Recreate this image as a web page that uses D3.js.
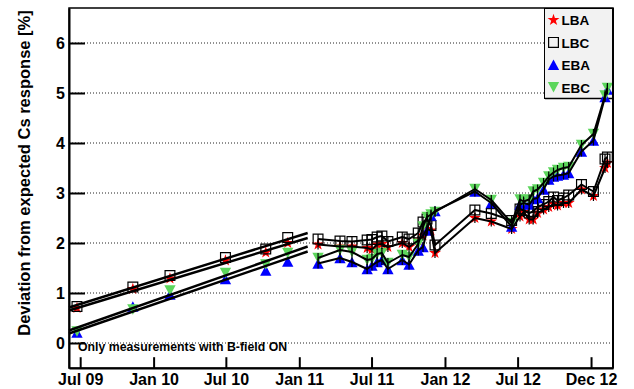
<!DOCTYPE html>
<html><head><meta charset="utf-8">
<script src="https://cdn.jsdelivr.net/npm/d3@7"></script>
<style>
html,body{margin:0;padding:0;background:#fff;}
svg{display:block;font-family:"Liberation Sans",Arial,Helvetica,sans-serif;font-weight:bold;}
</style></head><body>
<svg id="chart" width="634" height="389"></svg>
<script>
// 2009–2010 measurements (fitted with straight lines, not joined)
const earlyDates = ["2009-06-23","2009-11-10","2010-02-11","2010-06-30","2010-10-09","2010-12-03"];
const lbaEarly = [0.70, 1.08, 1.29, 1.65, 1.81, 2.00];
const lbcEarly = [0.73, 1.12, 1.35, 1.71, 1.88, 2.11];
const ebaEarly = [0.21, 0.73, 0.97, 1.28, 1.45, 1.63];
const ebcEarly = [0.23, 0.67, 1.05, 1.40, 1.57, 1.80];

// 2011–2013 measurements (joined by lines)
const dates = ["2011-02-17","2011-04-13","2011-05-13","2011-06-20","2011-07-02","2011-07-15","2011-07-27",
  "2011-08-11","2011-09-16","2011-10-03","2011-10-26","2011-11-07","2011-11-17","2011-11-27","2011-12-07",
  "2012-03-16","2012-04-26","2012-06-16","2012-07-07","2012-07-16","2012-07-30","2012-08-09","2012-08-20",
  "2012-09-04","2012-09-17","2012-09-29","2012-10-09","2012-10-24","2012-11-06","2012-12-08","2013-01-07",
  "2013-02-05","2013-02-11"];
const lba = [1.97,1.93,1.93,1.90,1.87,1.97,1.98,1.92,2.00,1.92,2.05,2.15,2.28,2.25,1.80,
  2.50,2.43,2.28,2.53,2.62,2.47,2.47,2.60,2.67,2.72,2.78,2.75,2.80,2.80,3.07,2.94,3.50,3.60];
const lbc = [2.08,2.04,2.03,2.06,2.07,2.12,2.14,2.03,2.12,2.08,2.20,2.42,2.48,2.35,1.96,
  2.66,2.59,2.45,2.68,2.65,2.60,2.63,2.72,2.77,2.83,2.92,2.85,2.90,2.96,3.17,3.03,3.68,3.72];
const eba = [1.59,1.70,1.62,1.48,1.55,1.62,1.66,1.48,1.66,1.57,1.85,1.92,2.25,2.55,2.64,
  3.03,2.80,2.33,2.77,2.80,2.77,2.88,2.90,3.07,3.27,3.33,3.35,3.37,3.40,3.83,4.05,4.92,5.07];
const ebc = [1.70,1.86,1.82,1.66,1.68,1.78,1.80,1.60,1.76,1.72,1.98,2.33,2.52,2.57,2.62,
  3.08,2.86,2.40,2.87,2.83,2.87,3.03,3.07,3.20,3.33,3.41,3.46,3.50,3.52,3.96,4.18,4.95,5.10];
const errPct = 0.10;

// straight-line fits over the 2009–2010 period
const fitDates = ["2009-06-03","2011-01-22"];
const fitLBA = [0.65, 2.10];
const fitLBC = [0.71, 2.20];
const fitEBA = [0.19, 1.83];
const fitEBC = [0.25, 1.93];

const seriesNames = ["LBA","LBC","EBA","EBC"];
const xTickDates = ["2009-07-01","2010-01-01","2010-07-01","2011-01-01","2011-07-01","2012-01-01","2012-07-01","2013-01-01"];
const xTickLabels = ["Jul 09","Jan 10","Jul 10","Jan 11","Jul 11","Jan 12","Jul 12","Dec 12"];
const yTicks = [0,1,2,3,4,5,6];

const frame = { left: 69, right: 613, top: 8, bottom: 368 };
const svg = d3.select("#chart");
const parse = s => new Date(s + "T00:00:00Z");

const x = d3.scaleUtc().domain([parse("2009-06-03"), parse("2013-02-25")]).range([frame.left, frame.right]);
const y = d3.scaleLinear().domain([-0.5, 6.7]).range([frame.bottom, frame.top]);

// horizontal dotted grid
svg.append("g").selectAll("line").data(yTicks).join("line")
  .attr("x1", frame.left).attr("x2", frame.right)
  .attr("y1", d => y(d)).attr("y2", d => y(d))
  .attr("stroke", "#222").attr("stroke-width", 1).attr("stroke-dasharray", "1,2");

// legend box (series lines may run across it)
const legend = svg.append("g");
legend.append("rect").attr("x", 544.5).attr("y", 8.5).attr("width", 68).attr("height", 90)
  .attr("fill", "#f2f2f2").attr("stroke", "#000").attr("stroke-width", 1);
legend.append("line").attr("x1", 545).attr("x2", 612).attr("y1", 98.5).attr("y2", 98.5)
  .attr("stroke", "#000").attr("stroke-width", 1.5);

// marker shapes
const triUp = { draw(ctx, s) { ctx.moveTo(0, -s/2); ctx.lineTo(s*0.54, s/2); ctx.lineTo(-s*0.54, s/2); ctx.closePath(); } };
const triDown = { draw(ctx, s) { ctx.moveTo(0, s/2); ctx.lineTo(s*0.54, -s/2); ctx.lineTo(-s*0.54, -s/2); ctx.closePath(); } };
const styles = {
  LBA: { path: d3.symbol(d3.symbolStar, 44)(), fill: "#ff0000", stroke: "none" },
  LBC: { path: d3.symbol(d3.symbolSquare, 96)(), fill: "none", stroke: "#000" },
  EBA: { path: d3.symbol(triUp, 10.5)(), fill: "#0000ff", stroke: "none" },
  EBC: { path: d3.symbol(triDown, 10.5)(), fill: "#5cd65c", stroke: "none" }
};

const early = { LBA: lbaEarly, LBC: lbcEarly, EBA: ebaEarly, EBC: ebcEarly };
const late = { LBA: lba, LBC: lbc, EBA: eba, EBC: ebc };
const fits = { LBA: fitLBA, LBC: fitLBC, EBA: fitEBA, EBC: fitEBC };

const pts = name => earlyDates.map((d, i) => ({ date: parse(d), v: early[name][i] }))
  .concat(dates.map((d, i) => ({ date: parse(d), v: late[name][i] })));

// markers
seriesNames.forEach(name => {
  const st = styles[name];
  svg.append("g").selectAll("path").data(pts(name)).join("path")
    .attr("transform", d => `translate(${x(d.date)},${y(d.v)})`)
    .attr("d", st.path).attr("fill", st.fill)
    .attr("stroke", st.stroke).attr("stroke-width", 1.2);
});

// fit lines, joining lines and error bars
const line = d3.line().x(d => x(d.date)).y(d => y(d.v));
seriesNames.forEach(name => {
  svg.append("path")
    .datum(fitDates.map((d, i) => ({ date: parse(d), v: fits[name][i] })))
    .attr("d", line).attr("fill", "none").attr("stroke", "#000").attr("stroke-width", 2.4);
  const lp = dates.map((d, i) => ({ date: parse(d), v: late[name][i] }));
  svg.append("path").datum(lp).attr("d", line)
    .attr("fill", "none").attr("stroke", "#000").attr("stroke-width", 2).attr("stroke-linejoin", "round");
  svg.append("g").selectAll("line").data(lp).join("line")
    .attr("x1", d => x(d.date)).attr("x2", d => x(d.date))
    .attr("y1", d => y(d.v - errPct)).attr("y2", d => y(d.v + errPct))
    .attr("stroke", "#000").attr("stroke-width", 1.2);
});

// legend entries
seriesNames.forEach((name, i) => {
  const st = styles[name];
  const cy = 20 + i * 22.4;
  legend.append("path").attr("transform", `translate(553.5,${cy})`)
    .attr("d", st.path).attr("fill", st.fill).attr("stroke", st.stroke).attr("stroke-width", 1.2);
  legend.append("text").attr("x", 561.5).attr("y", cy + 5.4)
    .attr("font-size", 13.5).attr("fill", "#000").text(name);
});

// axes
const minorX = [];
xTickDates.forEach(d => {
  [2, 4].forEach(m => { const t = d3.utcMonth.offset(parse(d), m); if (t < x.domain()[1]) minorX.push(t); });
});
const minorY = d3.range(-4, 67, 2).map(v => v / 10).filter(v => Math.round(v * 10) % 10 !== 0);

const gx = svg.append("g").attr("transform", `translate(0,${frame.bottom})`);
gx.call(d3.axisBottom(x).tickValues(minorX).tickSize(-5.4).tickSizeOuter(0).tickFormat(""));
gx.call(d3.axisBottom(x).tickValues(xTickDates.map(parse)).tickSize(-10.8).tickSizeOuter(0)
  .tickPadding(5.6).tickFormat((d, i) => xTickLabels[i]));
const gy = svg.append("g").attr("transform", `translate(${frame.left},0)`);
gy.call(d3.axisLeft(y).tickValues(minorY).tickSize(-8).tickSizeOuter(0).tickFormat(""));
gy.call(d3.axisLeft(y).tickValues(yTicks).tickSize(-16).tickSizeOuter(0).tickPadding(4).tickFormat(d3.format("d")));

svg.selectAll(".tick line").attr("stroke", "#000").attr("stroke-width", 2);
svg.selectAll(".domain").attr("stroke", "#000").attr("stroke-width", 2);
svg.selectAll(".tick text").attr("font-size", 16).attr("font-family", "'Liberation Sans',Arial,sans-serif")
  .attr("font-weight", "bold").attr("fill", "#000");

// frame
svg.append("rect").attr("x", frame.left).attr("y", frame.top)
  .attr("width", frame.right - frame.left).attr("height", frame.bottom - frame.top)
  .attr("fill", "none").attr("stroke", "#000").attr("stroke-width", 1.5);
svg.append("line").attr("x1", frame.right).attr("x2", frame.right).attr("y1", frame.top).attr("y2", frame.bottom)
  .attr("stroke", "#000").attr("stroke-width", 2);

// titles
svg.append("text").attr("transform", "translate(30,173) rotate(-90)")
  .attr("text-anchor", "middle").attr("font-size", 16.5).attr("fill", "#000")
  .text("Deviation from expected Cs response [%]");
svg.append("text").attr("x", 78).attr("y", 350.5).attr("font-size", 12.3).attr("fill", "#000")
  .text("Only measurements with B-field ON");
</script>
</body></html>
